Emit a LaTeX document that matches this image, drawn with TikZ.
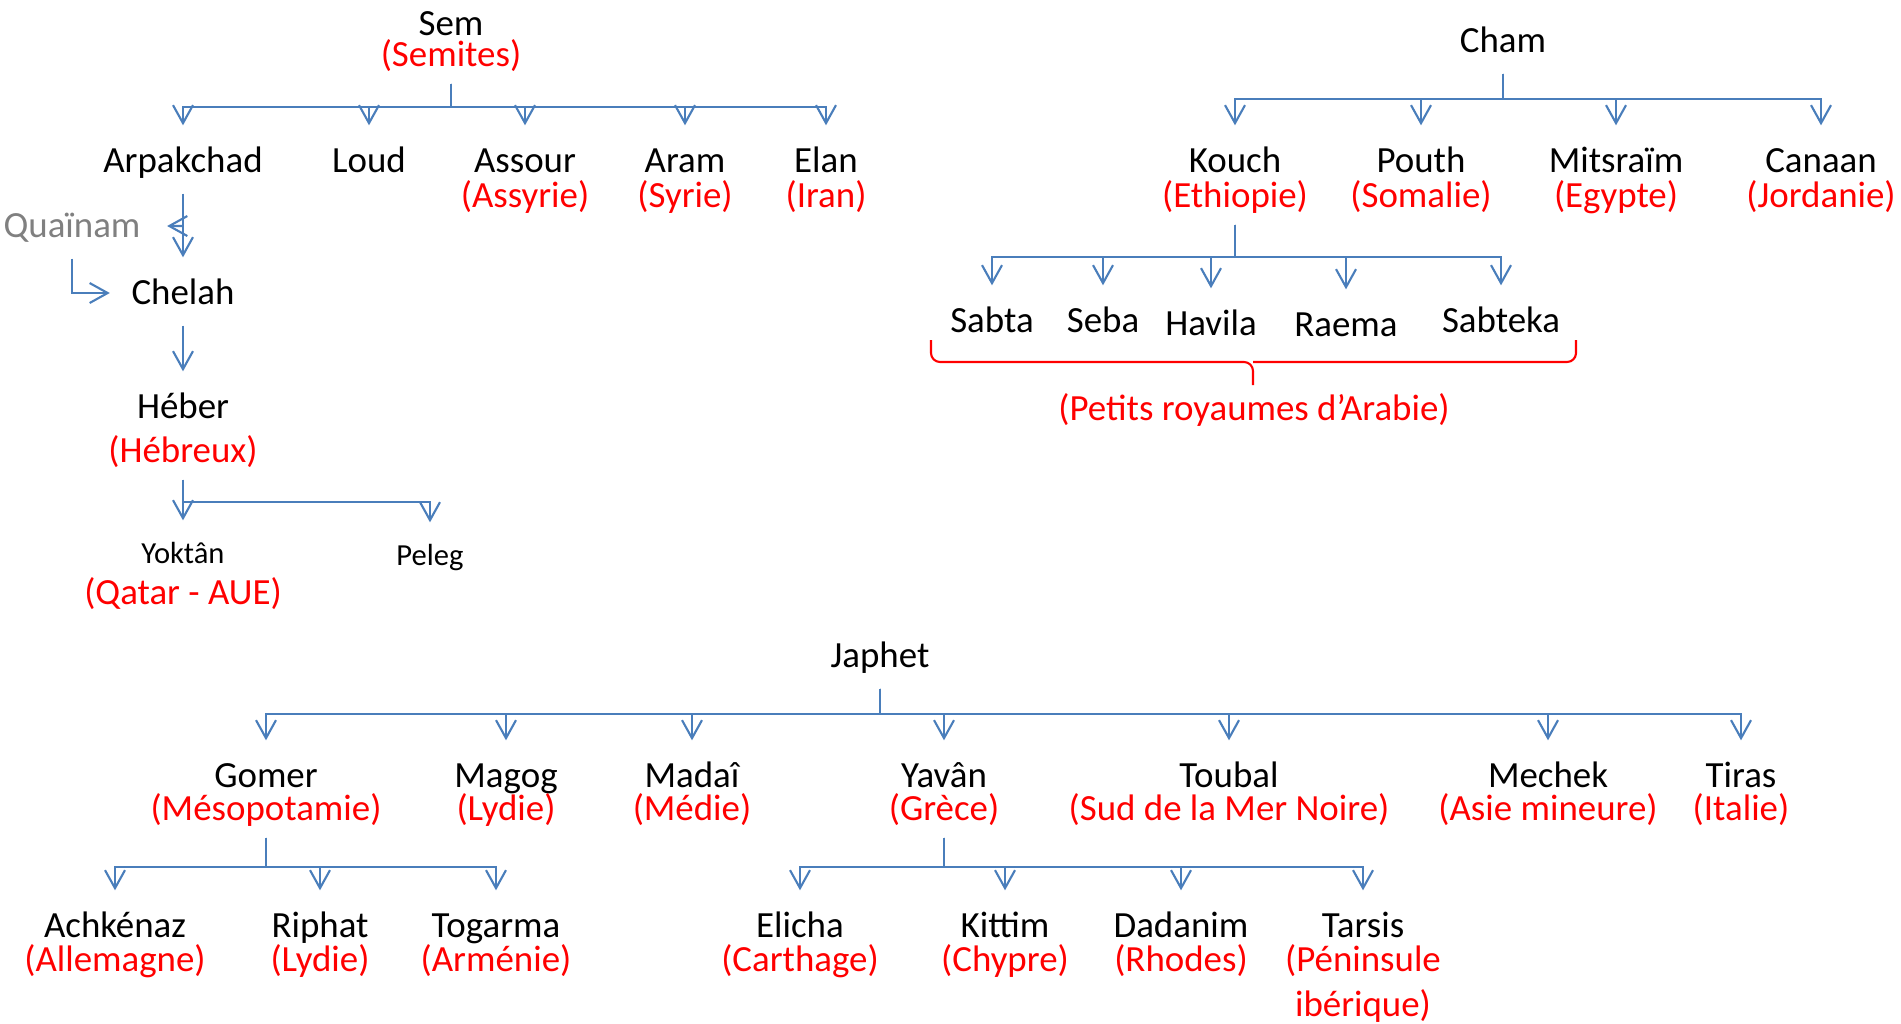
\documentclass[tikz,border=0pt]{standalone}
\usepackage{fontspec}
\setmainfont{Carlito}
\usetikzlibrary{arrows.meta}
\definecolor{linkblue}{RGB}{74,126,187}
\definecolor{shadegray}{RGB}{128,128,128}

\begin{document}
\begin{tikzpicture}[x=0.1mm, y=0.1mm,%
% common options for the names:
person/.style = {anchor=base, inner sep=0, text height=2.5mm, text depth=0.3mm,
            font=\fontsize{10.5}{12}\selectfont},
% smaller names:
minor/.style = {person, text height=2.1mm, font=\fontsize{8.7}{10}\selectfont},
% the countries under the names:
land/.style = {person, text depth=0.8mm, text=red},
% common options for the connectors:
link/.style = {draw=linkblue, line width=0.6pt,
            -{Straight Barb[length=1.8mm,width=2mm]},
            shorten >=2.1mm, shorten <=0.9mm},
fromname/.style = {shorten <=1.8mm},
curly/.style = {draw=red, line width=0.6pt, rounded corners=0.9mm}]
\useasboundingbox (0,0) rectangle (1901,-1023);
% Sem
\node[person] (sem) at (451,-35) {Sem};
\node[land] (semites) at (451,-66) {(Semites)};
\coordinate (sem-bar) at (451,-107);
\node[person] (arpakchad) at (183,-172) {Arpakchad};
\node[person] (loud) at (369,-172) {Loud};
\node[person] (assour) at (525,-172) {Assour};
\node[land] (assyrie) at (525,-207) {(Assyrie)};
\node[person] (aram) at (685,-172) {Aram};
\node[land] (syrie) at (685,-207) {(Syrie)};
\node[person] (elan) at (826,-172) {Elan};
\node[land] (iran) at (826,-207) {(Iran)};
\node[person, text=shadegray] (quainam) at (72,-237) {Quaïnam};
\coordinate (q-join) at (183,-226);
\node[person] (chelah) at (183,-304) {Chelah};
\node[person] (heber) at (183,-418) {Héber};
\node[land] (hebreux) at (183,-462) {(Hébreux)};
\coordinate (heb-bar) at (183,-502);
\node[minor] (yoktan) at (183,-563) {Yoktân};
\node[land] (qatar) at (183,-604) {(Qatar - AUE)};
\node[minor] (peleg) at (430,-565) {Peleg};
% Cham
\node[person] (cham) at (1503,-52) {Cham};
\coordinate (cham-bar) at (1503,-99);
\node[person] (kouch) at (1235,-172) {Kouch};
\node[land] (ethiopie) at (1235,-207) {(Ethiopie)};
\node[person] (pouth) at (1421,-172) {Pouth};
\node[land] (somalie) at (1421,-207) {(Somalie)};
\node[person] (mitsraim) at (1616,-172) {Mitsraïm};
\node[land] (egypte) at (1616,-207) {(Egypte)};
\node[person] (canaan) at (1821,-172) {Canaan};
\node[land] (jordanie) at (1821,-207) {(Jordanie)};
\coordinate (kouch-bar) at (1235,-257);
\node[person] (sabta) at (992,-332) {Sabta};
\node[person] (seba) at (1103,-332) {Seba};
\node[person] (havila) at (1211,-335) {Havila};
\node[person] (raema) at (1346,-336) {Raema};
\node[person] (sabteka) at (1501,-332) {Sabteka};
\node[land] (arabie) at (1254,-420) {(Petits royaumes d’Arabie)};
% Japhet
\node[person] (japhet) at (880,-667) {Japhet};
\coordinate (japhet-bar) at (880,-714);
\node[person] (gomer) at (266,-787) {Gomer};
\node[land] (mesopotamie) at (266,-820) {(Mésopotamie)};
\node[person] (magog) at (506,-787) {Magog};
\node[land] (lydie) at (506,-820) {(Lydie)};
\node[person] (madai) at (692,-787) {Madaî};
\node[land] (medie) at (692,-820) {(Médie)};
\node[person] (yavan) at (944,-787) {Yavân};
\node[land] (grece) at (944,-820) {(Grèce)};
\node[person] (toubal) at (1229,-787) {Toubal};
\node[land] (mernoire) at (1229,-820) {(Sud de la Mer Noire)};
\node[person] (mechek) at (1548,-787) {Mechek};
\node[land] (asie) at (1548,-820) {(Asie mineure)};
\node[person] (tiras) at (1741,-787) {Tiras};
\node[land] (italie) at (1741,-820) {(Italie)};
\coordinate (gomer-bar) at (266,-867);
\node[person] (achkenaz) at (115,-937) {Achkénaz};
\node[land] (allemagne) at (115,-971) {(Allemagne)};
\node[person] (riphat) at (320,-937) {Riphat};
\node[land] (lydie-b) at (320,-971) {(Lydie)};
\node[person] (togarma) at (496,-937) {Togarma};
\node[land] (armenie) at (496,-971) {(Arménie)};
\coordinate (yavan-bar) at (944,-867);
\node[person] (elicha) at (800,-937) {Elicha};
\node[land] (carthage) at (800,-971) {(Carthage)};
\node[person] (kittim) at (1005,-937) {Kittim};
\node[land] (chypre) at (1005,-971) {(Chypre)};
\node[person] (dadanim) at (1181,-937) {Dadanim};
\node[land] (rhodes) at (1181,-971) {(Rhodes)};
\node[person] (tarsis) at (1363,-937) {Tarsis};
\node[land] (peninsule) at (1363,-971) {(Péninsule};
\node[land] (iberique) at (1363,-1016) {ibérique)};
% connectors of Sem
\draw[link] (semites) -- (sem-bar) -| (arpakchad);
\draw[link] (semites) -- (sem-bar) -| (loud);
\draw[link] (semites) -- (sem-bar) -| (assour);
\draw[link] (semites) -- (sem-bar) -| (aram);
\draw[link] (semites) -- (sem-bar) -| (elan);
\draw[link, fromname] (arpakchad) -- (chelah);
\draw[link, shorten <=0pt, shorten >=2.6mm] (q-join) -- (quainam);
\draw[link, fromname] (quainam) |- (chelah);
\draw[link, fromname] (chelah) -- (heber);
\draw[link] (hebreux) -- (heb-bar) -| (yoktan);
\draw[link] (hebreux) -- (heb-bar) -| (peleg);
% connectors of Cham
\draw[link, fromname] (cham) -- (cham-bar) -| (kouch);
\draw[link, fromname] (cham) -- (cham-bar) -| (pouth);
\draw[link, fromname] (cham) -- (cham-bar) -| (mitsraim);
\draw[link, fromname] (cham) -- (cham-bar) -| (canaan);
\draw[link] (ethiopie) -- (kouch-bar) -| (sabta);
\draw[link] (ethiopie) -- (kouch-bar) -| (seba);
\draw[link] (ethiopie) -- (kouch-bar) -| (havila);
\draw[link] (ethiopie) -- (kouch-bar) -| (raema);
\draw[link] (ethiopie) -- (kouch-bar) -| (sabteka);
\draw[curly] (931,-340) |- (1253,-362) -- (1253,-385);
\draw[curly] (1253,-362) -| (1576,-340);
% connectors of Japhet
\draw[link, fromname] (japhet) -- (japhet-bar) -| (gomer);
\draw[link, fromname] (japhet) -- (japhet-bar) -| (magog);
\draw[link, fromname] (japhet) -- (japhet-bar) -| (madai);
\draw[link, fromname] (japhet) -- (japhet-bar) -| (yavan);
\draw[link, fromname] (japhet) -- (japhet-bar) -| (toubal);
\draw[link, fromname] (japhet) -- (japhet-bar) -| (mechek);
\draw[link, fromname] (japhet) -- (japhet-bar) -| (tiras);
\draw[link] (mesopotamie) -- (gomer-bar) -| (achkenaz);
\draw[link] (mesopotamie) -- (gomer-bar) -| (riphat);
\draw[link] (mesopotamie) -- (gomer-bar) -| (togarma);
\draw[link] (grece) -- (yavan-bar) -| (elicha);
\draw[link] (grece) -- (yavan-bar) -| (kittim);
\draw[link] (grece) -- (yavan-bar) -| (dadanim);
\draw[link] (grece) -- (yavan-bar) -| (tarsis);
\end{tikzpicture}
\end{document}
